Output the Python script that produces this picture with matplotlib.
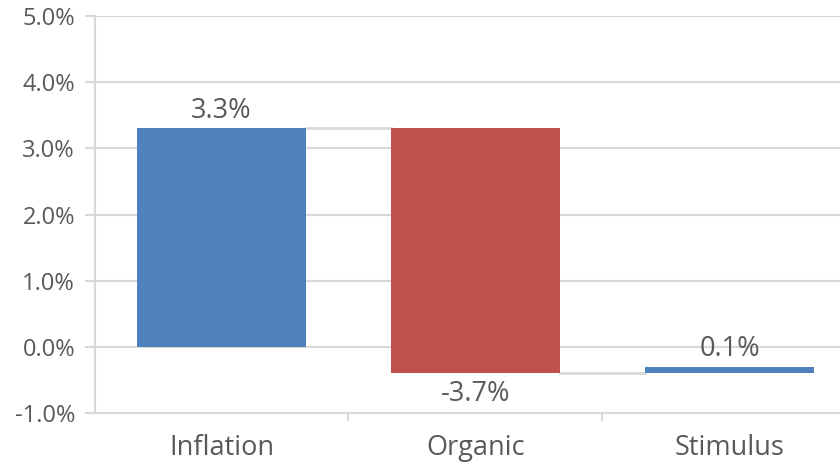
import matplotlib.pyplot as plt
from matplotlib.ticker import FuncFormatter, FixedLocator
import numpy as np

# contributions to growth, in percent
categories = ['Inflation', 'Organic', 'Stimulus']
changes = [3.3, -3.7, 0.1]
labels = ['3.3%', '-3.7%', '0.1%']

plt.rcParams['font.family'] = ['Open Sans', 'DejaVu Sans']

blue = '#4F81BD'
red = '#C0504D'
grid = '#D9D9D9'
txt = '#595959'

# running totals for the waterfall
ends = np.cumsum(changes)
starts = ends - np.array(changes)
colors = [blue if c >= 0 else red for c in changes]

fig = plt.figure(figsize=(8.4, 4.68), dpi=100)
ax = fig.add_axes([94.5 / 840, 1 - 413 / 468, 762 / 840, (413 - 16) / 468])

x = np.arange(len(categories))
w = 0.665
ax.bar(x, changes, bottom=starts, width=w, color=colors, zorder=3)

# connectors between consecutive bars
for i in range(len(categories) - 1):
    ax.plot([x[i] + w / 2, x[i + 1] - w / 2], [ends[i], ends[i]],
            color=grid, lw=2, zorder=2)

for i, (c, lab) in enumerate(zip(changes, labels)):
    if c >= 0:
        ax.text(x[i], ends[i] + 0.27, lab, ha='center', va='center',
                fontsize=19.5, color=txt)
    else:
        ax.text(x[i], ends[i] - 0.32, lab, ha='center', va='center',
                fontsize=19.5, color=txt)

ax.set_xlim(-0.5, 2.5)
ax.set_ylim(-1, 5)
ax.set_yticks(np.arange(-1, 5.01, 1))
ax.yaxis.set_major_formatter(FuncFormatter(lambda v, p: '%.1f%%' % v))
ax.grid(axis='y', color=grid, lw=1.5, zorder=0)

ax.set_xticks(x)
ax.set_xticklabels(categories, fontsize=19.5, color=txt)
ax.xaxis.set_minor_locator(FixedLocator([0.5, 1.5]))
ax.tick_params(axis='x', which='major', length=0, pad=15)
ax.tick_params(axis='x', which='minor', length=6, width=1.5, color=grid)
ax.tick_params(axis='y', length=7, width=1.5, color=grid, labelsize=17,
               labelcolor=txt, pad=7)

for s in ['top', 'right']:
    ax.spines[s].set_visible(False)
for s in ['left', 'bottom']:
    ax.spines[s].set_color(grid)
    ax.spines[s].set_linewidth(1.5)

fig.savefig('out.png', dpi=100)
